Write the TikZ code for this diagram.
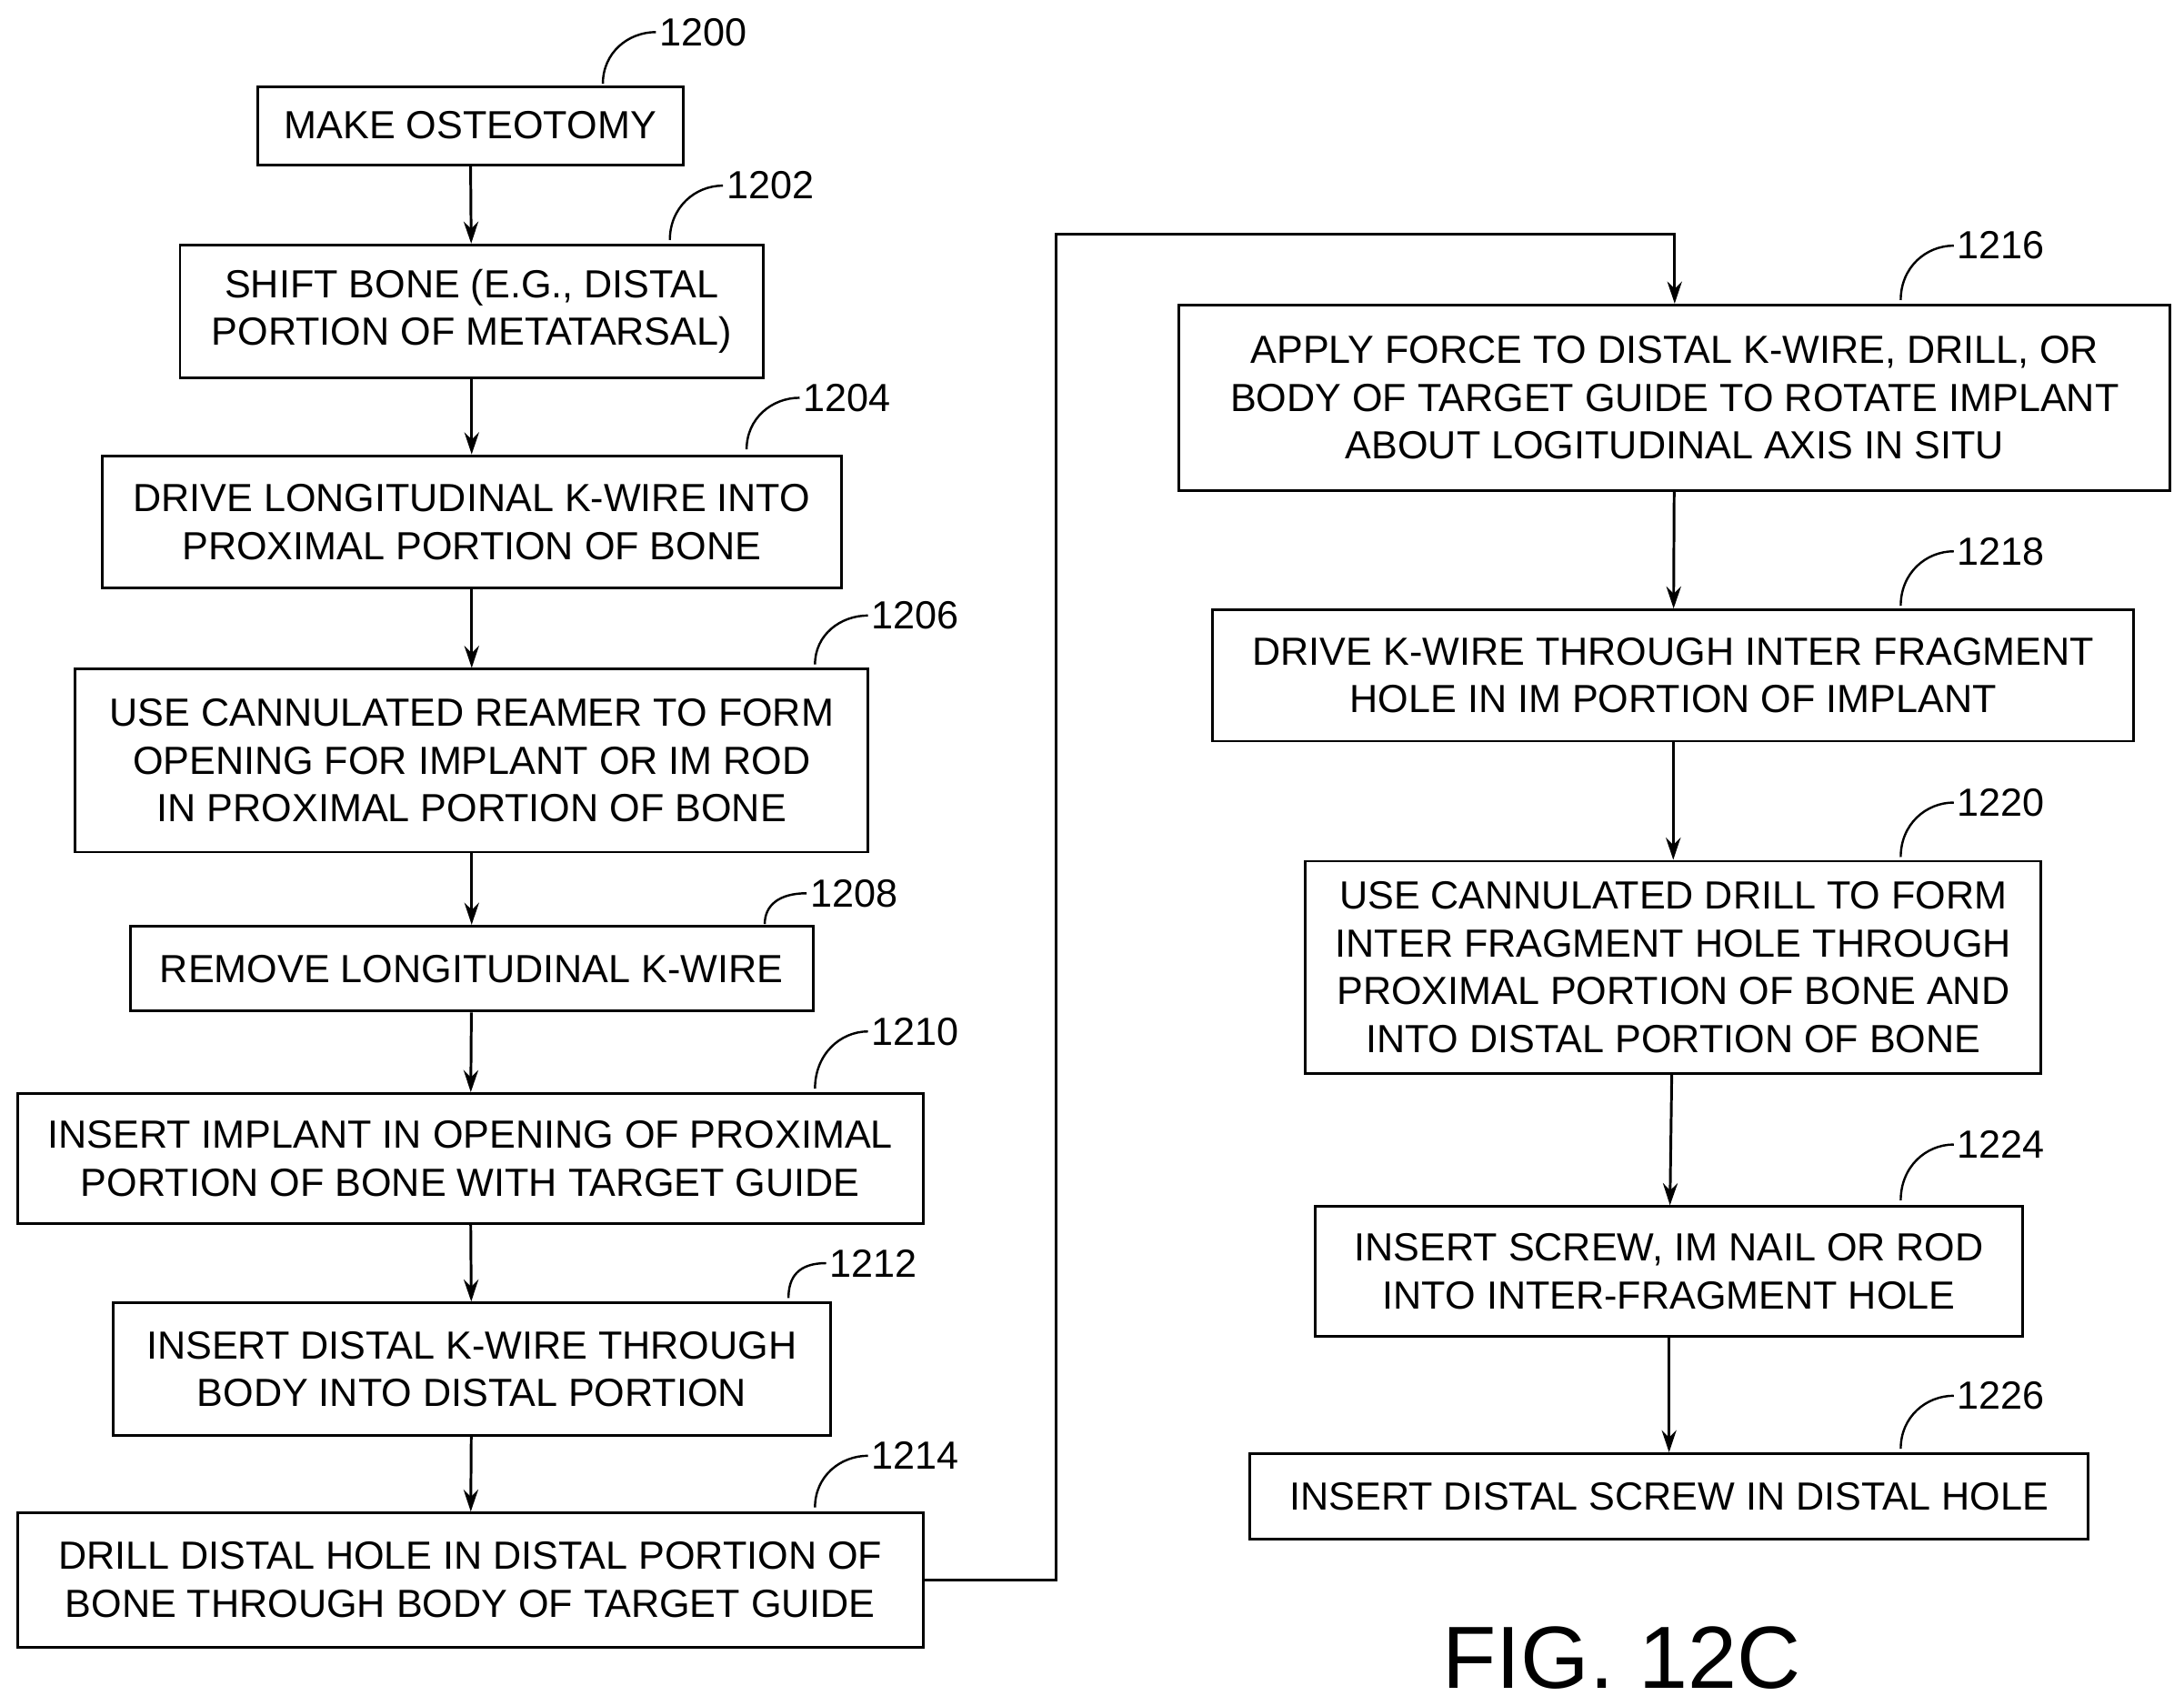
\documentclass[tikz,border=0pt]{standalone}
\usepackage{fontspec}
\setmainfont{Liberation Sans}
\usetikzlibrary{arrows.meta,calc}
\begin{document}
\begin{tikzpicture}[x=0.02cm,y=-0.02cm,line width=1.1pt,
 box/.style={draw,rectangle,align=center,font=\fontsize{16}{19.5}\selectfont,inner sep=0pt},
 lab/.style={font=\fontsize{16}{19}\selectfont,anchor=west,inner sep=1pt},
 arr/.style={-{Stealth[length=9pt,width=6pt]}}]
\useasboundingbox (0,0) rectangle (1565,1222);
\newcommand{\bx}[6]{\node[box,minimum width=#3*0.02cm,minimum height=#4*0.02cm] (#1) at (#2) {#5};}
\bx{b1200}{337,90}{305}{56}{MAKE OSTEOTOMY}{}
\bx{b1202}{338,223}{418}{95}{SHIFT BONE (E.G., DISTAL\\PORTION OF METATARSAL)}{}
\bx{b1204}{338,374}{530}{95}{DRIVE LONGITUDINAL K-WIRE INTO\\PROXIMAL PORTION OF BONE}{}
\bx{b1206}{338,545}{568}{131}{USE CANNULATED REAMER TO FORM\\OPENING FOR IMPLANT OR IM ROD\\IN PROXIMAL PORTION OF BONE}{}
\bx{b1208}{338,694}{489}{61}{REMOVE LONGITUDINAL K-WIRE}{}
\bx{b1210}{337,830}{649}{93}{INSERT IMPLANT IN OPENING OF PROXIMAL\\PORTION OF BONE WITH TARGET GUIDE}{}
\bx{b1212}{338,981}{514}{95}{INSERT DISTAL K-WIRE THROUGH\\BODY INTO DISTAL PORTION}{}
\bx{b1214}{337,1132}{649}{96}{DRILL DISTAL HOLE IN DISTAL PORTION OF\\BONE THROUGH BODY OF TARGET GUIDE}{}
\bx{b1216}{1200,285}{710}{133}{APPLY FORCE TO DISTAL K-WIRE, DRILL, OR\\BODY OF TARGET GUIDE TO ROTATE IMPLANT\\ABOUT LOGITUDINAL AXIS IN SITU}{}
\bx{b1218}{1199,484}{660}{94}{DRIVE K-WIRE THROUGH INTER FRAGMENT\\HOLE IN IM PORTION OF IMPLANT}{}
\bx{b1220}{1199,693}{527}{152}{USE CANNULATED DRILL TO FORM\\INTER FRAGMENT HOLE THROUGH\\PROXIMAL PORTION OF BONE AND\\INTO DISTAL PORTION OF BONE}{}
\bx{b1224}{1196,911}{507}{93}{INSERT SCREW, IM NAIL OR ROD\\INTO INTER-FRAGMENT HOLE}{}
\bx{b1226}{1196,1072}{601}{61}{INSERT DISTAL SCREW IN DISTAL HOLE}{}
\foreach \a/\b in {1200/1202,1202/1204,1204/1206,1206/1208,1208/1210,1210/1212,1212/1214,1216/1218,1218/1220,1220/1224,1224/1226}
  \draw[arr] (b\a) -- (b\b);
\coordinate (c1) at (757,1132);
\coordinate (c2) at (757,168);
\coordinate (c3) at (b1216.north |- c2);
\draw[arr] (b1214.east) -- (c1) -- (c2) -- (c3) -- (b1216.north);
\foreach \n/\sx/\sy/\ex/\ey in {1200/432/60/470/23,1202/480/172/518/133,1204/535/322/573/285,1206/584/476/622/441,1208/548/662/578/640,1210/584/780/622/739,1212/565/930/592/905,1214/584/1080/622/1043,1216/1362/215/1400/176,1218/1362/434/1400/395,1220/1362/614/1400/575,1224/1362/860/1400/820,1226/1362/1038/1400/1000}{
  \coordinate (s\n) at (\sx,\sy);
  \node[lab] (l\n) at (\ex,\ey) {\n};
  \draw[line width=0.9pt] (s\n) .. controls ($(s\n)+(0,-0.6*\sy+0.6*\ey)$) and ($(l\n.west)+(-20,0)$) .. (l\n.west);
}
\node[font=\fontsize{36}{40}\selectfont] (fig) at (1162,1188) {FIG. 12C};
\end{tikzpicture}
\end{document}
